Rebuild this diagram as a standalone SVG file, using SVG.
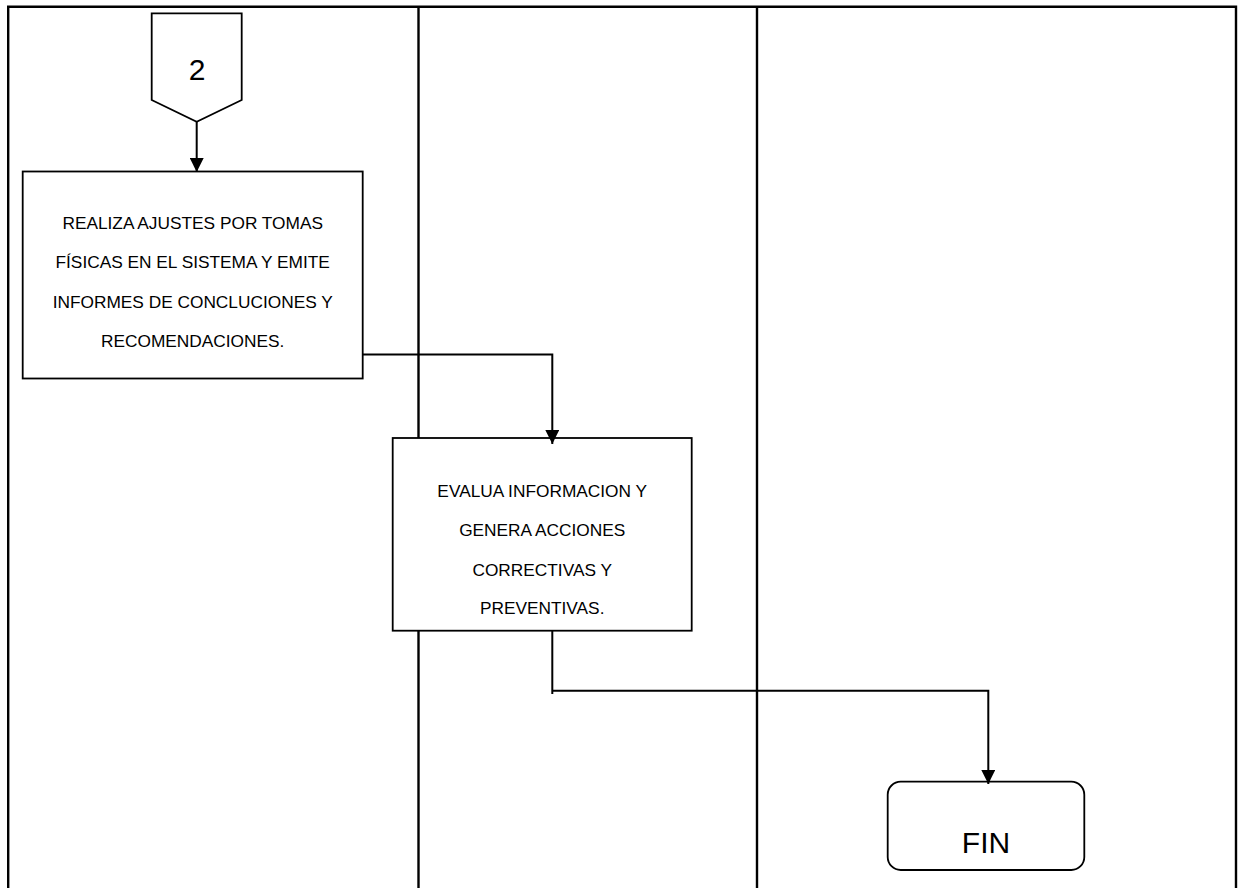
<svg xmlns="http://www.w3.org/2000/svg" width="1238" height="888" viewBox="0 0 1238 888">
  <style>
    .lane { stroke: #000; stroke-width: 2.4; fill: none; }
    .box { fill: #fff; stroke: #000; stroke-width: 1.8; }
    .conn { fill: none; stroke: #000; stroke-width: 2; }
    .label { font-family: "Liberation Sans", Arial, sans-serif; font-size: 17.3px; fill: #000; text-anchor: middle; }
    .big { font-family: "Liberation Sans", Arial, sans-serif; font-size: 30px; fill: #000; text-anchor: middle; }
  </style>
  <defs>
    <marker id="arrow" viewBox="0 0 14 14" refX="14" refY="7" markerWidth="14" markerHeight="14" markerUnits="userSpaceOnUse" orient="auto">
      <path d="M0,0 L14,7 L0,14 Z" fill="#000"/>
    </marker>
  </defs>

  <rect width="1238" height="888" fill="#fff"/>

  <!-- swimlane frame (open at the bottom) -->
  <g id="lanes">
    <path class="lane" d="M8.2,888 V6.8 H1236 V888"/>
    <line class="lane" x1="418.5" y1="6.8" x2="418.5" y2="888"/>
    <line class="lane" x1="757" y1="6.8" x2="757" y2="888"/>
  </g>

  <!-- off-page connector 2 -->
  <g id="node-ref2">
    <polygon class="box" points="151.7,13.3 241.7,13.3 241.7,100 196.7,121.7 151.7,100"/>
    <text class="big" x="197" y="79.5">2</text>
  </g>

  <!-- adjustment step -->
  <g id="node-ajustes">
    <rect class="box" x="22.7" y="171.5" width="340" height="207"/>
    <text class="label" x="192.7" y="229">REALIZA AJUSTES POR TOMAS</text>
    <text class="label" x="192.7" y="268.3">FÍSICAS EN EL SISTEMA Y EMITE</text>
    <text class="label" x="192.7" y="307.5">INFORMES DE CONCLUCIONES Y</text>
    <text class="label" x="192.7" y="346.7">RECOMENDACIONES.</text>
  </g>

  <!-- evaluation step -->
  <g id="node-evalua">
    <rect class="box" x="392.7" y="438" width="299" height="192.7"/>
    <text class="label" x="542.2" y="497">EVALUA INFORMACION Y</text>
    <text class="label" x="542.2" y="536.3">GENERA ACCIONES</text>
    <text class="label" x="542.2" y="575.5">CORRECTIVAS Y</text>
    <text class="label" x="542.2" y="614.3">PREVENTIVAS.</text>
  </g>

  <!-- terminator -->
  <g id="node-fin">
    <rect class="box" x="887.7" y="781.7" width="196.6" height="88.3" rx="13" ry="13"/>
    <text class="big" x="986" y="853">FIN</text>
  </g>

  <!-- flow connectors -->
  <g id="connectors">
    <path class="conn" d="M196.7,121.7 V172" marker-end="url(#arrow)"/>
    <path class="conn" d="M362.7,354.5 H552.3 V444" marker-end="url(#arrow)"/>
    <path class="conn" d="M552.3,630.7 V694"/>
    <path class="conn" d="M552.3,690.7 H988.3 V784" marker-end="url(#arrow)"/>
  </g>
</svg>
